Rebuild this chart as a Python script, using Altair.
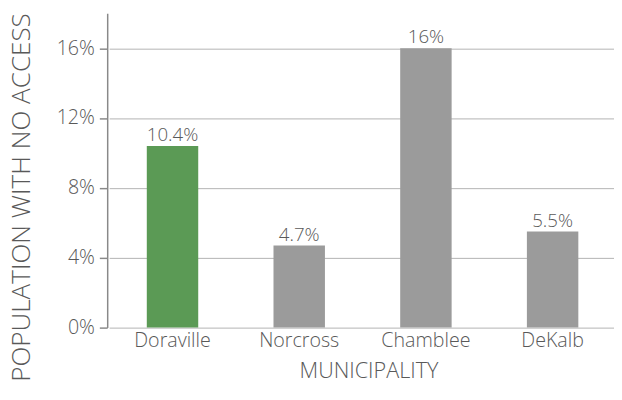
import altair as alt
import pandas as pd

municipalities = ["Doraville", "Norcross", "Chamblee", "DeKalb"]
values = [10.4, 4.7, 16, 5.5]
labels = ["10.4%", "4.7%", "16%", "5.5%"]
bar_colors = ["#5b9a55", "#9b9b9b", "#9b9b9b", "#9b9b9b"]
y_ticks = [0, 2, 4, 6, 8, 10, 12, 14, 16, 18]

df = pd.DataFrame({"m": municipalities, "v": values, "lab": labels, "c": bar_colors})

FONT = "Open Sans"
TXT = "#595959"
W = 300

x = alt.X("m:N", sort=municipalities,
          scale=alt.Scale(paddingInner=0.594, paddingOuter=0.297, range=[2, 518]),
          axis=alt.Axis(title="MUNICIPALITY", labelAngle=0, ticks=False, domain=False,
                        labelFontSize=20, labelColor=TXT, labelFont=FONT, labelPadding=3,
                        labelFontWeight=W,
                        titleFontSize=22, titleColor=TXT, titleFont=FONT, titleFontWeight=W,
                        titleX=266, titleY=51, titleBaseline="alphabetic", titleAlign="center"))
y = alt.Y("v:Q", scale=alt.Scale(domain=[0, 18], nice=False),
          axis=alt.Axis(title="POPULATION WITH NO ACCESS", values=y_ticks,
                        labelExpr="datum.value % 4 == 0 ? datum.value + '%' : ''",
                        tickSize=8, tickColor="#898989", tickWidth=1.5,
                        domainColor="#898989", domainWidth=1.5,
                        gridColor="#b3b3b3", gridWidth=1,
                        labelFontSize=20, labelColor=TXT, labelFont=FONT, labelPadding=5,
                        labelFontWeight=W,
                        titleFontSize=26.5, titleColor=TXT, titleFont=FONT, titleFontWeight=W,
                        titleX=-79, titleY=187, titleBaseline="alphabetic", titleAlign="center",
                        titleAngle=270))

bars = alt.Chart(df).mark_bar().encode(x=x, y=y, color=alt.Color("c:N", scale=None))
text = alt.Chart(df).mark_text(baseline="bottom", dy=-1, fontSize=19, font=FONT, color=TXT,
                               fontWeight=W).encode(
    x=alt.X("m:N", sort=municipalities), y="v:Q", text="lab:N")

chart = (bars + text).properties(
    width=502, height=320,
    padding={"left": 0, "top": 1, "right": 0, "bottom": 0},
).configure_view(stroke=None)

chart.save("out.html", embed_options={"renderer": "svg", "actions": False})
